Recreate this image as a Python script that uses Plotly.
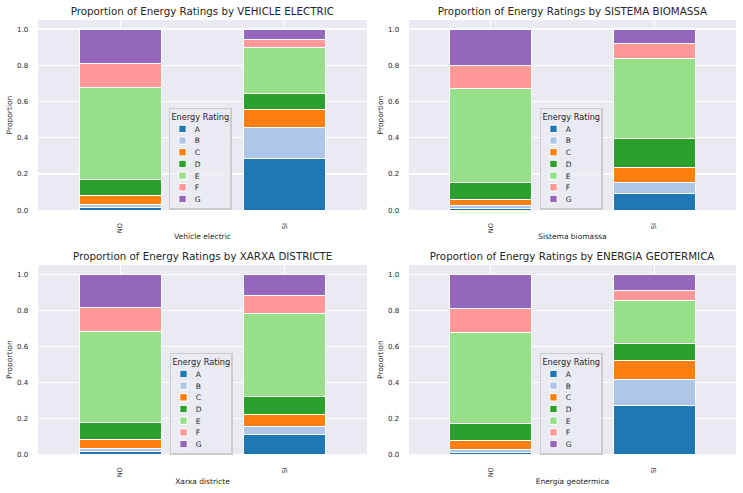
import plotly.graph_objects as go

# ---- data ----
ratings = ["A", "B", "C", "D", "E", "F", "G"]
categories = ["NO", "SI"]
colors = ["#1f77b4", "#aec7e8", "#ff7f0e", "#2ca02c", "#98df8a", "#ff9896", "#9467bd"]

panel_titles = [
    "Proportion of Energy Ratings by VEHICLE ELECTRIC",
    "Proportion of Energy Ratings by SISTEMA BIOMASSA",
    "Proportion of Energy Ratings by XARXA DISTRICTE",
    "Proportion of Energy Ratings by ENERGIA GEOTERMICA",
]
x_labels = ["Vehicle electric", "Sistema biomassa", "Xarxa districte", "Energia geotermica"]
y_tick_values = [0.0, 0.2, 0.4, 0.6, 0.8, 1.0]

vehicle_electric_no = [0.012, 0.018, 0.048, 0.091, 0.509, 0.133, 0.189]
vehicle_electric_si = [0.283, 0.174, 0.099, 0.088, 0.254, 0.046, 0.056]
sistema_biomassa_no = [0.010, 0.013, 0.037, 0.092, 0.517, 0.129, 0.202]
sistema_biomassa_si = [0.093, 0.059, 0.085, 0.156, 0.442, 0.085, 0.080]
xarxa_districte_no = [0.013, 0.020, 0.049, 0.092, 0.509, 0.130, 0.187]
xarxa_districte_si = [0.111, 0.043, 0.067, 0.098, 0.462, 0.098, 0.121]
energia_geotermica_no = [0.009, 0.017, 0.052, 0.091, 0.508, 0.130, 0.193]
energia_geotermica_si = [0.271, 0.146, 0.101, 0.096, 0.239, 0.054, 0.093]

panels = [
    (vehicle_electric_no, vehicle_electric_si),
    (sistema_biomassa_no, sistema_biomassa_si),
    (xarxa_districte_no, xarxa_districte_si),
    (energia_geotermica_no, energia_geotermica_si),
]

# ---- geometry (screen px of the 743x493 view) ----
W, H = 743, 493
S = 0.615                      # the figure is drawn large and shown scaled, like the reference
PW, PH = round(W / S), round(H / S)


def px(v):
    """screen px -> plotly px"""
    return v / S


x_domains = [[38 / W, 367 / W], [409 / W, 736 / W]]
y_domains = [[(H - 210) / H, (H - 20) / H], [(H - 454) / H, (H - 265) / H]]
legend_pos = [(169, 108), (540, 108), (170, 353), (540, 353)]  # left x, top y
title_y = [11, 256]

TXT = "#262626"
FONT = "DejaVu Sans"

fig = go.Figure()
layout = dict(
    width=PW, height=PH,
    margin=dict(l=0, r=0, t=0, b=0),
    paper_bgcolor="white",
    plot_bgcolor="#eaeaf2",
    barmode="stack",
    font=dict(family=FONT, color=TXT, size=px(7.5)),
    annotations=[],
    showlegend=True,
)

for i, (no_vals, si_vals) in enumerate(panels):
    r, c = divmod(i, 2)
    ax = "" if i == 0 else str(i + 1)
    leg = "legend" if i == 0 else f"legend{i + 1}"
    for k, rating in enumerate(ratings):
        fig.add_trace(go.Bar(
            x=categories,
            y=[no_vals[k], si_vals[k]],
            name=rating,
            marker=dict(color=colors[k], line=dict(color="white", width=px(1))),
            xaxis="x" + ax, yaxis="y" + ax,
            legend=leg,
            width=0.5,
        ))
    layout["xaxis" + ax] = dict(
        domain=x_domains[c], anchor="y" + ax,
        type="category", range=[-0.5, 1.5],
        showgrid=True, gridcolor="white", gridwidth=px(1),
        zeroline=False, showline=False, ticks="",
        tickangle=-90, tickfont=dict(size=px(6.6), color=TXT),
        ticklabelstandoff=round(px(11)),
        title=dict(text=x_labels[i], font=dict(size=px(7.5), color=TXT), standoff=round(px(1.5))),
        automargin=False,
    )
    layout["yaxis" + ax] = dict(
        domain=y_domains[r], anchor="x" + ax,
        range=[0, 1.05], tickvals=y_tick_values, tickformat=".1f",
        showgrid=True, gridcolor="white", gridwidth=px(1),
        zeroline=False, showline=False, ticks="",
        tickfont=dict(size=px(7.0), color=TXT),
        ticklabelstandoff=round(px(9)),
        title=dict(text="Proportion", font=dict(size=px(7.5), color=TXT), standoff=round(px(3))),
        automargin=False,
    )
    lx, ly = legend_pos[i]
    layout[leg] = dict(
        x=lx / W, y=(H - ly) / H, xanchor="left", yanchor="top",
        xref="paper", yref="paper",
        bgcolor="rgba(234,234,242,0.8)", bordercolor="#cccccc", borderwidth=round(px(1)),
        title=dict(text="Energy Rating", font=dict(size=px(8.2), color=TXT), side="top"),
        font=dict(size=px(7.5), color=TXT),
        traceorder="normal",
        itemwidth=30,
    )
    layout["annotations"].append(dict(
        text=panel_titles[i], xref="paper", yref="paper",
        x=sum(x_domains[c]) / 2, y=(H - title_y[r]) / H,
        xanchor="center", yanchor="middle", showarrow=False,
        font=dict(size=px(10.3), color=TXT, family=FONT),
    ))

fig.update_layout(**layout)

view_script = (
    "var d=document.getElementById('{plot_id}');"
    "document.documentElement.style.overflow='hidden';"
    "document.body.style.margin='0';"
    "document.body.style.overflow='hidden';"
    "d.style.transformOrigin='0 0';"
    "d.style.transform='scale(%s)';" % S
)
fig.write_html("out.html", post_script=view_script, config={"displayModeBar": False})
